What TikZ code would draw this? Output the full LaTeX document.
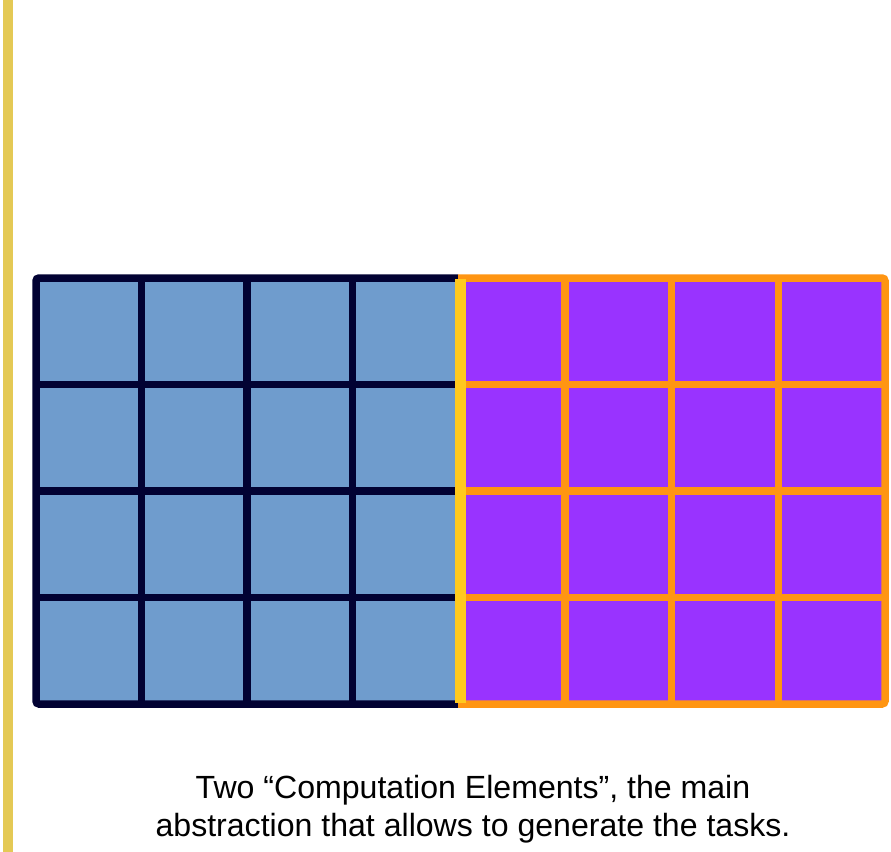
\documentclass[tikz,border=0pt]{standalone}
\usepackage{fontspec}
\setmainfont{Liberation Sans}
\usepackage{tikz}
\usetikzlibrary{positioning}
\definecolor{cellblue}{HTML}{6F9CCD}
\definecolor{cellpurple}{HTML}{9933FF}
\definecolor{navy}{HTML}{020233}
\definecolor{tangerine}{HTML}{FF9512}
\definecolor{gold}{HTML}{E4C955}
\definecolor{sepyellow}{HTML}{FFC91E}
\tikzset{
  bluegrid/.style  ={draw=navy,line width=7.5bp,rounded corners=3bp},
  orangegrid/.style={draw=tangerine,line width=7.5bp,rounded corners=3bp},
  sepbar/.style    ={draw=sepyellow,line width=11bp},
  sidebar/.style   ={draw=gold,line width=10bp},
  caption/.style   ={font=\fontsize{32.2}{38.5}\selectfont,align=center,inner sep=0pt},
}

\begin{document}
\begin{tikzpicture}[x=1bp,y=-1bp]
  \useasboundingbox (0,0) rectangle (891,852);
  % side bar
  \draw[sidebar] (8,0) -- (8,852);
  % left computation element
  \fill[cellblue] (36,278) rectangle (458,704);
  \foreach \i in {1,2,3}{
    \draw[navy,line width=7.5bp] ({36+\i*105.5},278) -- ({36+\i*105.5},704);
    \draw[navy,line width=7.5bp] (36,{278+\i*106.5}) -- (458,{278+\i*106.5});}
  \draw[bluegrid] (458,278) -- (36,278) -- (36,704) -- (458,704);
  % right computation element
  \fill[cellpurple] (458,278) rectangle (885,704);
  \foreach \i in {1,2,3}{
    \draw[tangerine,line width=7.5bp] ({458+\i*106.75},278) -- ({458+\i*106.75},704);
    \draw[tangerine,line width=7.5bp] (458,{278+\i*106.5}) -- (885,{278+\i*106.5});}
  \draw[orangegrid] (458,278) -- (885,278) -- (885,704) -- (458,704);
  % border between the two
  \draw[sepbar] (460,279) -- (460,703);
  \node[caption,anchor=north] (cap) at (473,775)
    {Two “Computation Elements”, the main\\abstraction that allows to generate the tasks.};
\end{tikzpicture}
\end{document}
